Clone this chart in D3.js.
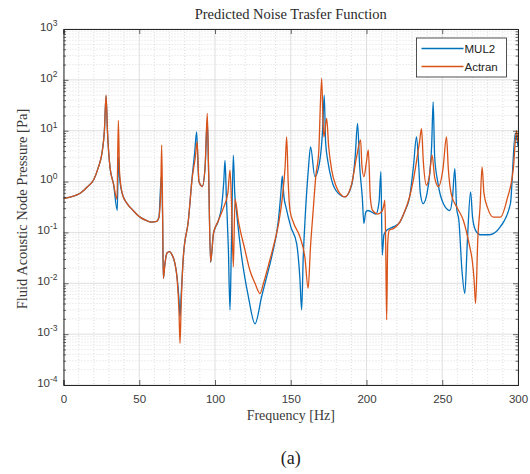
<!DOCTYPE html>
<html>
<head>
<meta charset="utf-8">
<script src="https://cdn.jsdelivr.net/npm/d3@7"></script>
<style>
  html, body { margin: 0; padding: 0; background: #fff; }
  svg { display: block; }
</style>
</head>
<body>
<svg id="chart" width="530" height="474"></svg>
<script>
// ---------------- data ----------------
const title = "Predicted Noise Trasfer Function";
const xLabel = "Frequency [Hz]";
const yLabel = "Fluid Acoustic Node Pressure [Pa]";
const caption = "(a)";
const seriesNames = ["MUL2", "Actran"];
const xTicks = [0, 50, 100, 150, 200, 250, 300];
const yTickExponents = [-4, -3, -2, -1, 0, 1, 2, 3];

const freqMUL2 = [0,5,11,16,20,23,25.5,27,28.1,29,30.7,33,35.5,36.2,37,39,42,46,50.5,55,58,61.5,63,64.6,65.4,65.9,66.8,68.2,70,71.5,73.5,75,76.2,76.9,77.7,79.1,82.4,85,86.5,87.9,88.8,89.4,91.6,93.5,94.9,95.8,97.1,99,102.2,104.5,105.8,106.6,107.5,108.8,109.9,110.8,112.1,113,114.3,117.6,122,126.4,130.8,134,137.4,141.8,143.5,144.4,145.5,147,150,153.9,156,157.2,158.2,159.4,161.6,163.1,165.9,169.2,171,172.1,173,174.5,177,181.5,185.8,190.2,192.5,194.1,195.5,197.2,198.3,199.5,201,206.2,208.3,209.5,210.4,211.5,213.3,218,222,225,228.6,231,233,234.5,235.5,237.4,240,241.8,243,244,245,247,250.7,255,256.8,258.3,259.5,261,263,264.9,266.5,268.7,270,272,275.2,281,288.4,295,298.2,300];
const pMUL2 = [0.46,0.5,0.59,0.8,1.1,1.9,3.8,10,48,10,1.9,0.9,0.27,3.1,1.2,0.55,0.37,0.27,0.2,0.17,0.16,0.165,0.2,1.3,0.2,0.0125,0.022,0.039,0.042,0.037,0.025,0.013,0.005,0.0022,0.006,0.033,0.17,1.3,3.5,9.5,2,1.0,0.8,2,16,1.5,0.026,0.096,0.17,0.35,1.0,2.6,0.5,0.05,0.003,0.05,3.3,0.6,0.24,0.033,0.0055,0.0016,0.0055,0.013,0.033,0.17,0.6,1.3,0.5,0.3,0.13,0.06,0.013,0.003,0.03,0.17,1.7,4.8,1.25,2.6,10,50,6,2.5,1.07,0.58,0.5,0.85,3,14,2,0.5,0.15,0.25,0.27,0.23,0.4,1.56,0.036,0.09,0.11,0.13,0.16,0.25,0.52,2,7.6,2,0.6,0.37,0.6,1.5,5,37,3,1.0,0.37,0.27,0.5,1.8,0.3,0.17,0.018,0.0063,0.06,0.63,0.2,0.11,0.09,0.09,0.13,0.37,9,5];

const freqActran = [0,5,11,16,20,23,25.5,27,28.1,29,30.7,33,35.3,36.2,37,39,42,46,50.5,55,58,61.5,63,64.2,64.8,65.4,65.9,66.8,68.2,70,71.5,73.5,75,76.2,76.9,77.7,79.1,82.4,85,87,88.2,89.4,91.6,93.5,94.9,95.8,97.1,99,102.2,105.5,108.5,109.9,111,112.1,113.2,115.4,119.8,123,126.4,129.7,132,135,139,142,144.5,146.3,147.3,148.3,149.5,152,156,159.3,161.5,163,164.8,166.5,168.5,170.4,171.3,171.9,173.7,175,177,180,182.5,185.8,190.2,193.5,196.1,197,198.3,200,201.2,202.5,204,207.3,210.2,211.5,212.1,212.7,213.3,214,215,218,222,225,228.6,231,233,235,236.3,237.5,239.6,241.5,243.3,245,247.5,250.5,252.8,254,256,260,264,267.7,270,271,272,273.5,274.9,276.3,277.5,280,283.6,288.4,292.8,297,299,300];
const pActran = [0.46,0.5,0.59,0.8,1.1,1.9,3.8,10,50,10,1.9,0.9,0.45,16,1.5,0.55,0.37,0.27,0.2,0.17,0.16,0.165,0.2,0.7,5.2,0.3,0.0125,0.022,0.039,0.042,0.037,0.025,0.012,0.003,0.00066,0.004,0.033,0.17,1.2,3,6,1.0,0.8,2,22,1.5,0.026,0.096,0.17,0.3,0.6,1.7,0.3,0.021,0.45,0.17,0.045,0.018,0.01,0.0063,0.01,0.021,0.06,0.15,0.5,2,7.6,1.0,0.27,0.15,0.083,0.033,0.008,0.05,0.27,1.25,4,107,15,7.6,17.5,5,1.7,0.8,0.58,0.5,0.9,3.1,6.6,2,1.25,2.5,4.2,0.5,0.27,0.23,0.26,0.35,0.43,0.05,0.0019,0.06,0.11,0.12,0.16,0.25,0.52,1.1,2.5,6,11,2.5,0.85,1.3,3.3,1.2,0.8,1.8,7.6,1.8,0.56,0.3,0.17,0.06,0.025,0.012,0.004,0.08,0.3,1.95,0.6,0.3,0.2,0.2,0.45,1.9,10,6];

const seriesColors = ["#0072BD", "#D95319"];

// ---------------- layout ----------------
const svg = d3.select("#chart");
const L = 63.5, R = 518, T = 29, B = 385;
const x = d3.scaleLinear().domain([0, 300]).range([L, R]);
const y = d3.scaleLog().domain([1e-4, 1e3]).range([B, T]);
const serif = "Liberation Serif, Times New Roman, serif";
const sans = "Liberation Sans, Arial, sans-serif";

svg.append("rect").attr("x", L).attr("y", T).attr("width", R - L).attr("height", B - T).attr("fill", "#fff");

// minor grid
const g = svg.append("g");
const minorX = d3.range(0, 301, 10).filter(v => v % 50 !== 0);
g.selectAll(".mx").data(minorX).join("line")
  .attr("x1", d => x(d)).attr("x2", d => x(d)).attr("y1", T).attr("y2", B)
  .attr("stroke", "#c8c8c8").attr("stroke-width", 0.6).attr("stroke-dasharray", "1,2");
const minorY = [];
for (let e = -4; e < 3; e++) for (let k = 2; k <= 9; k++) minorY.push(k * Math.pow(10, e));
g.selectAll(".my").data(minorY).join("line")
  .attr("x1", L).attr("x2", R).attr("y1", d => y(d)).attr("y2", d => y(d))
  .attr("stroke", "#c8c8c8").attr("stroke-width", 0.6).attr("stroke-dasharray", "1,2");
// major grid
g.selectAll(".Mx").data(xTicks).join("line")
  .attr("x1", d => x(d)).attr("x2", d => x(d)).attr("y1", T).attr("y2", B)
  .attr("stroke", "#d6d6d6").attr("stroke-width", 0.8);
g.selectAll(".My").data(yTickExponents.map(e => Math.pow(10, e))).join("line")
  .attr("x1", L).attr("x2", R).attr("y1", d => y(d)).attr("y2", d => y(d))
  .attr("stroke", "#d6d6d6").attr("stroke-width", 0.8);

// lines
svg.append("clipPath").attr("id", "clip").append("rect")
  .attr("x", L).attr("y", T).attr("width", R - L).attr("height", B - T);
const line = d3.line().x(d => x(d[0])).y(d => y(d[1])).curve(d3.curveMonotoneX);
const dataM = freqMUL2.map((f, i) => [f, pMUL2[i]]);
const dataA = freqActran.map((f, i) => [f, pActran[i]]);
const lg = svg.append("g").attr("clip-path", "url(#clip)");
lg.append("path").datum(dataM).attr("d", line).attr("fill", "none")
  .attr("stroke", seriesColors[0]).attr("stroke-width", 1.3).attr("stroke-linejoin", "round");
lg.append("path").datum(dataA).attr("d", line).attr("fill", "none")
  .attr("stroke", seriesColors[1]).attr("stroke-width", 1.3).attr("stroke-linejoin", "round");

// axes
const axisColor = "#262626";
const yMajor = yTickExponents.map(e => Math.pow(10, e));
const xAxis = svg.append("g").attr("transform", `translate(0,${B})`)
  .call(d3.axisBottom(x).tickValues(xTicks).tickSize(-5).tickPadding(10).tickFormat(d3.format("d")));
const xAxisTop = svg.append("g").attr("transform", `translate(0,${T})`)
  .call(d3.axisTop(x).tickValues(xTicks).tickSize(-5).tickFormat(""));
const yAxis = svg.append("g").attr("transform", `translate(${L},0)`)
  .call(d3.axisLeft(y).tickValues(yMajor).tickSize(-5).tickPadding(7).tickFormat(""));
const yAxisR = svg.append("g").attr("transform", `translate(${R},0)`)
  .call(d3.axisRight(y).tickValues(yMajor).tickSize(-5).tickFormat(""));
svg.append("g").attr("transform", `translate(${L},0)`)
  .call(d3.axisLeft(y).tickValues(minorY).tickSize(-2.5).tickFormat(""))
  .call(s => s.select(".domain").remove());
svg.append("g").attr("transform", `translate(${R},0)`)
  .call(d3.axisRight(y).tickValues(minorY).tickSize(-2.5).tickFormat(""))
  .call(s => s.select(".domain").remove());

[xAxis, xAxisTop, yAxis, yAxisR].forEach(a => {
  a.select(".domain").attr("stroke", axisColor).attr("stroke-width", 1);
});
svg.selectAll(".tick line").attr("stroke", axisColor).attr("stroke-width", 0.7);

xAxis.selectAll("text").attr("font-family", sans).attr("font-size", 11.5).attr("fill", "#3a3a3a");

yAxis.selectAll(".tick").each(function(d) {
  const t = d3.select(this).select("text");
  t.attr("font-family", sans).attr("font-size", 11.5)
    .attr("fill", "#3a3a3a").attr("x", -6).attr("dy", "0.1em").text(null);
  t.append("tspan").text("10");
  t.append("tspan").attr("dy", "-0.55em").attr("font-size", 8.5).text(Math.round(Math.log10(d)));
});

// title and labels
svg.append("text").attr("x", (L + R) / 2).attr("y", 19).attr("text-anchor", "middle")
  .attr("font-family", serif).attr("font-size", 14.5).attr("fill", "#2a2a2a")
  .text(title);
svg.append("text").attr("x", (L + R) / 2).attr("y", 420).attr("text-anchor", "middle")
  .attr("font-family", serif).attr("font-size", 14).attr("fill", "#3a3a3a")
  .text(xLabel);
svg.append("text").attr("transform", `translate(27,${(T + B) / 2 + 2}) rotate(-90)`).attr("text-anchor", "middle")
  .attr("font-family", serif).attr("font-size", 14.5).attr("fill", "#3a3a3a")
  .text(yLabel);
svg.append("text").attr("x", (L + R) / 2).attr("y", 464).attr("text-anchor", "middle")
  .attr("font-family", serif).attr("font-size", 18).attr("fill", "#222")
  .text(caption);

// legend
const legX = 416.5, legY = 38, legW = 90, legH = 39;
const leg = svg.append("g");
leg.append("rect").attr("x", legX).attr("y", legY).attr("width", legW).attr("height", legH)
  .attr("fill", "#fff").attr("stroke", axisColor).attr("stroke-width", 0.8);
seriesNames.forEach((name, i) => {
  const yy = legY + 10.5 + i * 18;
  leg.append("line").attr("x1", legX + 5).attr("x2", legX + 47).attr("y1", yy).attr("y2", yy)
    .attr("stroke", seriesColors[i]).attr("stroke-width", 1.3);
  leg.append("text").attr("x", legX + 48).attr("y", yy + 4).attr("font-family", sans)
    .attr("font-size", 11.5).attr("fill", "#222").text(name);
});
</script>
</body>
</html>
